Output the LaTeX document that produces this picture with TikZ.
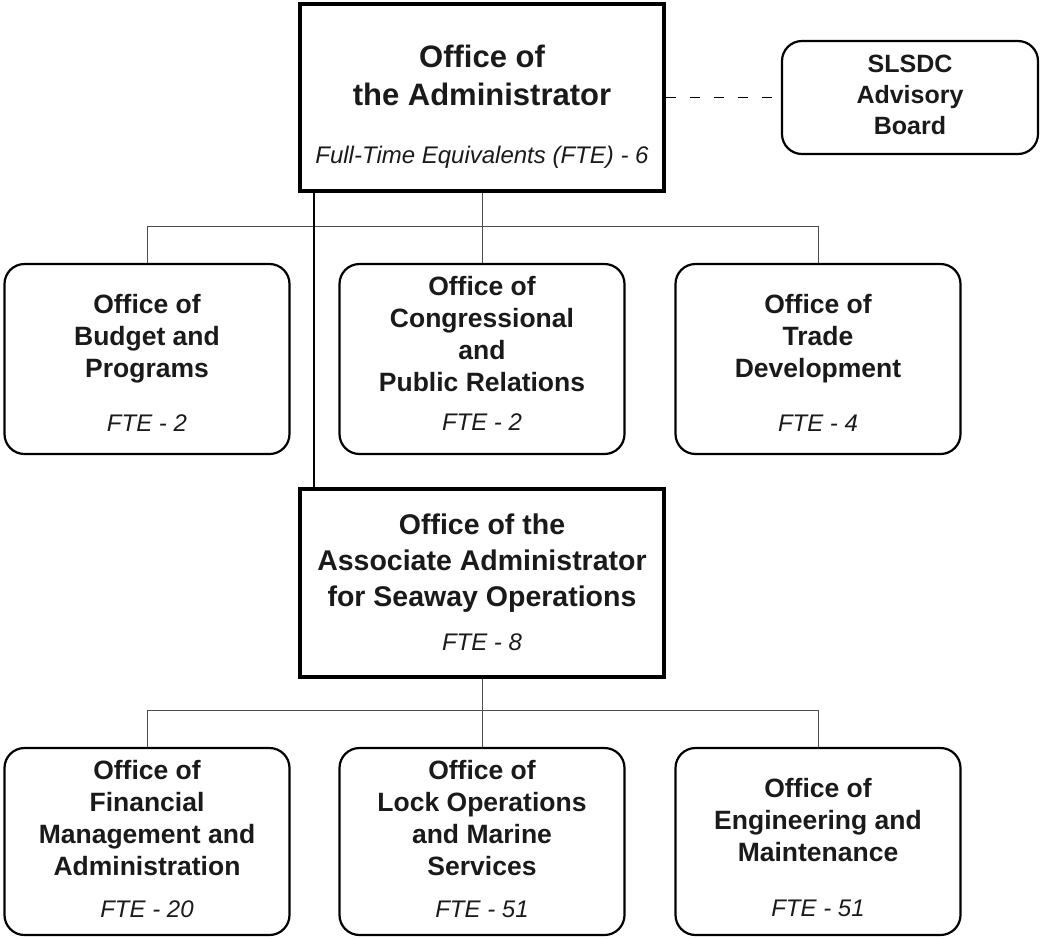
\documentclass[tikz,border=0pt]{standalone}
\usepackage{fontspec}
\setmainfont{Liberation Sans}
\definecolor{inkdark}{HTML}{1a1a1a}
\definecolor{linegray}{HTML}{4d4d4d}
\newcommand{\fteline}[1]{{\mdseries\itshape\fontsize{24}{28}\selectfont FTE - #1}}
\newcommand{\padtop}[1]{\rule{0pt}{#1pt}}
\newcommand{\padbottom}[1]{\rule[-#1pt]{0pt}{#1pt}}
\begin{document}
\begin{tikzpicture}[x=1pt,y=1pt,
  head/.style={rectangle,draw=black,line width=4.5pt,minimum width=364pt,
               minimum height=187pt,align=center,text=inkdark,inner sep=0pt},
  office/.style={rectangle,draw=black,line width=2.2pt,rounded corners=20pt,
               minimum width=285pt,minimum height=190pt,align=center,text=inkdark,
               font=\fontsize{26.5}{32}\selectfont\bfseries,inner sep=0pt},
  link/.style={draw=linegray,line width=1pt},
  spine/.style={draw=black,line width=2.5pt},
  advise/.style={draw=black,line width=1pt,dash pattern=on 10pt off 14pt}
]
\useasboundingbox (0,0) rectangle (1042,-938);

% ---- TOP ----
\node[head,font=\fontsize{31}{38}\selectfont\bfseries] (admin) at (482,-97.5)
  {\padtop{40}Office of\\the Administrator\\[20pt]{\mdseries\itshape\fontsize{24}{28}\selectfont Full-Time Equivalents (FTE) - 6}};
\node[office,minimum width=256pt,minimum height=113pt,font=\fontsize{25}{31}\selectfont\bfseries] (board) at (910,-97.5)
  {\padtop{20}SLSDC\\Advisory\\Board\padbottom{9}};

% ---- STAFF OFFICES ----
\node[office] (budget)   at (147,-359) {\padtop{26}Office of\\Budget and\\Programs\\[22pt]\fteline{2}};
\node[office] (congress) at (482,-359) {\padtop{22}Office of\\Congressional\\and\\Public Relations\\[7pt]\fteline{2}\padbottom{15}};
\node[office] (trade)    at (818,-359) {\padtop{26}Office of\\Trade\\Development\\[22pt]\fteline{4}};

% ---- ASSOCIATE ADMINISTRATOR ----
\node[head,minimum height=188pt,font=\fontsize{28.5}{36}\selectfont\bfseries] (assoc) at (482,-583)
  {\padtop{23}Office of the\\Associate Administrator\\for Seaway Operations\\[8pt]\fteline{8}\padbottom{5}};

% ---- SEAWAY OFFICES ----
\node[office,minimum height=187pt] (finance)  at (147,-841.5) {\padtop{22}Office of\\Financial\\Management and\\Administration\\[10pt]\fteline{20}\padbottom{9}};
\node[office,minimum height=187pt] (lock)     at (482,-841.5) {\padtop{22}Office of\\Lock Operations\\and Marine\\Services\\[10pt]\fteline{51}\padbottom{9}};
\node[office,minimum height=187pt] (engineer) at (818,-841.5) {\padtop{32}Office of\\Engineering and\\Maintenance\\[23pt]\fteline{51}};

% ---- CONNECTIONS ----
\coordinate (bustop) at (482,-226);
\coordinate (busbottom) at (482,-710);
\draw[link] (admin.south) -- (congress.north);
\foreach \o in {budget,trade}
  \draw[link] (bustop) -| (\o.north);
\draw[link] (assoc.south) -- (lock.north);
\foreach \o in {finance,engineer}
  \draw[link] (busbottom) -| (\o.north);
\draw[spine] ([xshift=16pt]admin.south west) -- ([xshift=16pt]assoc.north west);
\draw[advise] (admin.east) -- (board.west);

\end{tikzpicture}
\end{document}
